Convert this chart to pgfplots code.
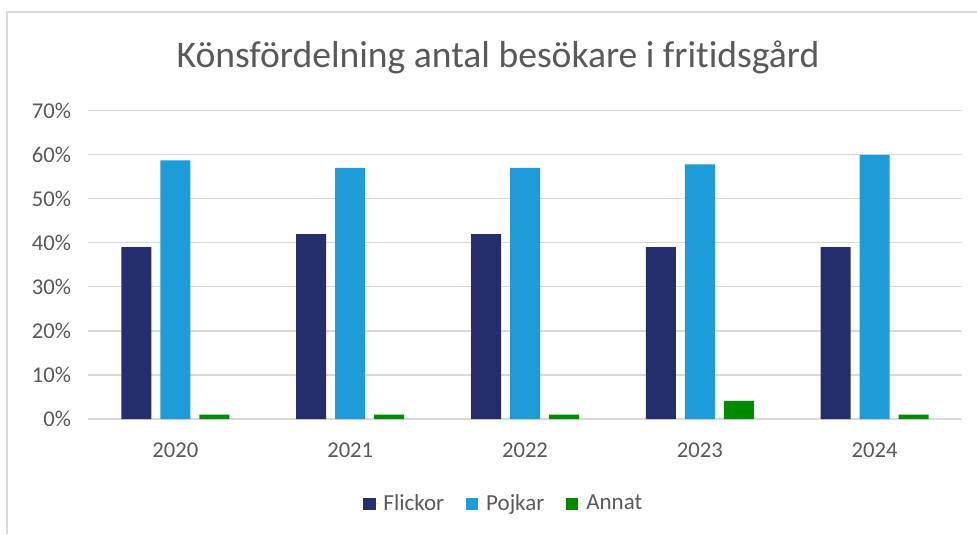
\documentclass[border=0pt]{standalone}
\usepackage{fontspec}
\setmainfont{Carlito}[Ligatures=NoCommon]
\usepackage{pgfplots}
\pgfplotsset{compat=1.18}
\definecolor{flick}{HTML}{252E6C}
\definecolor{pojk}{HTML}{1E9CD7}
\definecolor{annat}{HTML}{008A00}
\definecolor{txtgray}{HTML}{595959}
\definecolor{gridgray}{HTML}{D9D9D9}
\begin{document}
\begin{tikzpicture}
\path[use as bounding box] (0pt,0pt) rectangle (488.5pt,267pt);
\fill[white] (0pt,0pt) rectangle (488.5pt,267pt);
\draw[gridgray, line width=0.7pt] (3.5pt,0pt) -- (3.5pt,261pt) -- (488.5pt,261pt);
\node[text=txtgray, font=\fontsize{18.8}{21}\selectfont, inner sep=0pt] at (249pt,238.5pt) {Könsfördelning antal besökare i fritidsgård};
\begin{axis}[
  at={(44pt,57.5pt)}, anchor=south west,
  scale only axis, width=437pt, height=154.15pt,
  ybar=4.5pt, bar width=15pt,
  xmin=-0.5, xmax=4.5, ymin=0, ymax=70,
  xtick={0,1,2,3,4}, xticklabels={2020,2021,2022,2023,2024},
  ytick={0,10,...,70},
  yticklabel={\pgfmathprintnumber{\tick}\%},
  /pgf/number format/assume math mode=true,
  axis line style={draw=none},
  major tick length=0pt,
  ymajorgrids, grid style={gridgray, line width=0.6pt},
  ticklabel style={text=txtgray, font=\fontsize{11.3}{13}\selectfont},
  yticklabel style={xshift=-5pt},
  xticklabel style={yshift=-8.5pt},
  legend columns=3,
  legend style={at={(0.477,-0.275)}, anchor=center, draw=none, fill=none,
    font=\fontsize{11.5}{13}\selectfont, text=txtgray,
    /tikz/every even column/.append style={column sep=9pt}},
]
\addplot[fill=flick, draw=none, legend image code/.code={\fill[flick] (0pt,-3pt) rectangle (6pt,3pt); \path (0pt,0pt) -- (8pt,0pt);}] coordinates {(0,39) (1,42) (2,42) (3,39) (4,39)};
\addlegendentry{Flickor}
\addplot[fill=pojk, draw=none, legend image code/.code={\fill[pojk] (0pt,-3pt) rectangle (6pt,3pt); \path (0pt,0pt) -- (8pt,0pt);}] coordinates {(0,58.7) (1,57) (2,57) (3,57.8) (4,60)};
\addlegendentry{Pojkar}
\addplot[fill=annat, draw=none, legend image code/.code={\fill[annat] (0pt,-3pt) rectangle (6pt,3pt); \path (0pt,0pt) -- (8pt,0pt);}] coordinates {(0,1) (1,1) (2,1) (3,4.1) (4,1)};
\addlegendentry{Annat}
\end{axis}
\end{tikzpicture}
\end{document}
